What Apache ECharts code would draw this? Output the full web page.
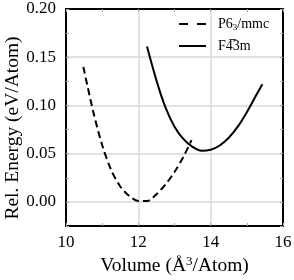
<!DOCTYPE html>
<html><head><meta charset="utf-8">
<script src="https://cdn.jsdelivr.net/npm/echarts@6/dist/echarts.min.js"></script>
<style>html,body{margin:0;padding:0;background:#fff}#c{width:294px;height:280px}</style>
</head><body><div id="c"></div>
<script>
const hexVolume = [10.48, 10.75, 11.0, 11.25, 11.5, 11.75, 12.0, 12.25, 12.5, 12.75, 13.0, 13.25, 13.47];
const hexEnergy = [0.140, 0.094, 0.059, 0.033, 0.016, 0.006, 0.001, 0.001, 0.008, 0.018, 0.031, 0.047, 0.064];
const cubVolume = [12.24, 12.5, 12.75, 13.0, 13.25, 13.5, 13.75, 14.0, 14.25, 14.5, 14.75, 15.0, 15.25, 15.43];
const cubEnergy = [0.161, 0.126, 0.098, 0.078, 0.065, 0.057, 0.053, 0.054, 0.0585, 0.0665, 0.078, 0.093, 0.110, 0.122];
const seriesNames = ['P63/mmc', 'F4\u03053m'];
const xTickLabels = ['10', '12', '14', '16'];
const yTickLabels = ['0.00', '0.05', '0.10', '0.15', '0.20'];

const FONT = '"Liberation Serif", "DejaVu Serif", serif';
const GRID = '#d9d9d9';
const TICK = '#a8a8a8';
const tickStyle = { show: true, inside: true, length: 3, lineStyle: { color: TICK, width: 1 } };
const axisLineStyle = { show: true, onZero: false, lineStyle: { color: '#000', width: 2 } };
const yMajor = yTickLabels.map(Number);

const chart = echarts.init(document.getElementById('c'));
chart.setOption({
  animation: false,
  backgroundColor: '#fff',
  grid: { left: 66, right: 11, top: 9, bottom: 54, containLabel: false, outerBoundsMode: 'none' },
  legend: {
    orient: 'vertical', left: 173, top: 12, itemWidth: 27, itemHeight: 14, itemGap: 7,
    itemStyle: { color: 'transparent', borderWidth: 0, opacity: 0 },
    data: [
      { name: seriesNames[0], lineStyle: { type: 9, width: 2, color: '#000' } },
      { name: seriesNames[1], lineStyle: { type: 'solid', width: 2, color: '#000' } }
    ],
    formatter: function (n) { return n === seriesNames[0] ? 'P6{sub|3}/mmc' : n; },
    textStyle: {
      fontFamily: FONT, fontSize: 14, color: '#000', padding: [0, 0, 0, 7],
      rich: { sub: { fontFamily: FONT, fontSize: 9, padding: [7, 0, 0, 0] } }
    }
  },
  xAxis: [
    {
      type: 'value', position: 'bottom', min: 10, max: 16, interval: 2,
      axisLine: axisLineStyle, axisTick: tickStyle,
      minorTick: { show: true, splitNumber: 2, length: 3, lineStyle: { color: TICK } },
      axisLabel: {
        fontFamily: FONT, fontSize: 17, color: '#000', margin: 8,
        formatter: function (v) { const s = String(v); return xTickLabels.includes(s) ? s : ''; }
      },
      splitLine: { show: true, lineStyle: { color: GRID, width: 1.5 } },
      name: 'Volume (Å{sup|3}/Atom)', nameLocation: 'middle', nameGap: 29, nameMoveOverlap: false,
      nameTextStyle: {
        fontFamily: FONT, fontSize: 19.5, color: '#000',
        rich: { sup: { fontFamily: FONT, fontSize: 13, padding: [0, 0, 8, 0] } }
      }
    },
    {
      type: 'value', position: 'top', min: 10, max: 16, interval: 2,
      axisLine: axisLineStyle, axisTick: tickStyle,
      minorTick: { show: true, splitNumber: 2, length: 3, lineStyle: { color: TICK } },
      axisLabel: { show: false }, splitLine: { show: false }
    }
  ],
  yAxis: [
    {
      type: 'value', position: 'left', min: -0.025, max: 0.2,
      axisLine: axisLineStyle,
      axisTick: { show: true, inside: true, length: 3, lineStyle: { color: TICK, width: 1 }, customValues: yMajor },
      axisLabel: {
        fontFamily: FONT, fontSize: 17, color: '#000', margin: 10, customValues: yMajor,
        formatter: function (v) { return v.toFixed(2); }
      },
      splitLine: { show: true, lineStyle: { color: GRID, width: 1.5 } },
      name: 'Rel. Energy (eV/Atom)', nameLocation: 'middle', nameGap: 43, nameMoveOverlap: false,
      nameTextStyle: { fontFamily: FONT, fontSize: 19.5, color: '#000', padding: [0, 21, 0, 0] }
    },
    {
      type: 'value', position: 'right', min: -0.025, max: 0.2, interval: 0.025,
      axisLine: axisLineStyle, axisTick: tickStyle,
      axisLabel: { show: false }, splitLine: { show: false }
    },
    {
      type: 'value', position: 'left', offset: 0, min: -0.025, max: 0.2, interval: 0.025,
      axisLine: { show: false }, axisTick: tickStyle,
      axisLabel: { show: false }, splitLine: { show: false }
    }
  ],
  series: [
    {
      name: seriesNames[0], type: 'line', xAxisIndex: 0, yAxisIndex: 0,
      data: hexVolume.map((v, i) => [v, hexEnergy[i]]),
      showSymbol: false, symbol: 'none', smooth: 0.3,
      lineStyle: { color: '#000', width: 2, type: [7, 4] }, itemStyle: { color: '#000' }
    },
    {
      name: seriesNames[1], type: 'line', xAxisIndex: 0, yAxisIndex: 0,
      data: cubVolume.map((v, i) => [v, cubEnergy[i]]),
      showSymbol: false, symbol: 'none', smooth: 0.3,
      lineStyle: { color: '#000', width: 2 }, itemStyle: { color: '#000' }
    }
  ]
});
</script></body></html>
